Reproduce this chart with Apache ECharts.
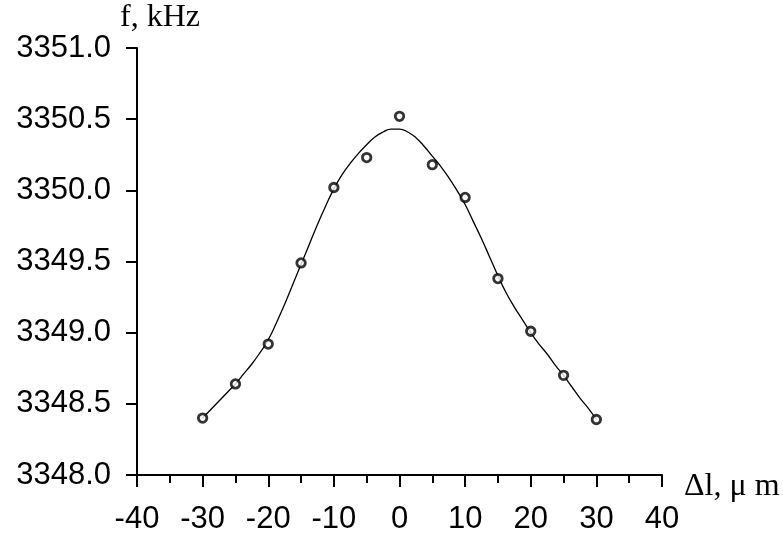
<!DOCTYPE html>
<html>
<head>
<meta charset="utf-8">
<script src="https://cdn.jsdelivr.net/npm/echarts@6/dist/echarts.min.js"></script>
<style>
  html, body { margin: 0; padding: 0; background: #fff; }
  #chart { width: 783px; height: 535px; }
</style>
</head>
<body>
<div id="chart"></div>
<script>
// measured points
var pointX = [-30, -25, -20, -15, -10, -5, 0, 5, 10, 15, 20, 25, 30];
var pointF = [3348.40, 3348.64, 3348.92, 3349.49, 3350.02, 3350.23, 3350.52, 3350.18, 3349.95, 3349.38, 3349.01, 3348.70, 3348.39];

// fitted curve, every 1.25 um
var curveX = [-30, -28.75, -27.5, -26.25, -25, -23.75, -22.5, -21.25, -20, -18.75, -17.5, -16.25, -15, -13.75, -12.5, -11.25, -10, -8.75, -7.5, -6.25, -5, -3.75, -2.5, -1.25, 0,
              1.25, 2.5, 3.75, 5, 6.25, 7.5, 8.75, 10, 11.25, 12.5, 13.75, 15, 16.25, 17.5, 18.75, 20, 21.25, 22.5, 23.75, 25, 26.25, 27.5, 28.75, 30];
var curveF = [3348.40, 3348.46, 3348.52, 3348.58, 3348.64, 3348.71, 3348.78, 3348.86, 3348.95, 3349.07, 3349.20, 3349.34, 3349.48, 3349.62, 3349.76, 3349.89, 3350.01, 3350.11, 3350.19, 3350.26, 3350.32, 3350.375, 3350.41, 3350.43, 3350.43,
              3350.41, 3350.37, 3350.31, 3350.24, 3350.17, 3350.09, 3350.00, 3349.90, 3349.78, 3349.66, 3349.53, 3349.40, 3349.28, 3349.18, 3349.09, 3349.00, 3348.92, 3348.85, 3348.77, 3348.70, 3348.62, 3348.54, 3348.47, 3348.39];

var chart = echarts.init(document.getElementById('chart'));

function pairs(xs, ys) {
    return xs.map(function (x, i) { return [x, ys[i]]; });
}

var sans = '"Liberation Sans", Arial, sans-serif';
var serif = '"Liberation Serif", "Times New Roman", serif';

chart.setOption({
    animation: false,
    backgroundColor: '#fff',
    grid: { left: 137, right: 121, top: 48, bottom: 60 },
    xAxis: {
        type: 'value',
        min: -40, max: 40, interval: 10,
        name: 'Δl, μ m',
        nameLocation: 'end',
        nameGap: 22,
        nameTextStyle: { fontFamily: serif, fontSize: 32, color: '#000', verticalAlign: 'top', lineHeight: 24 },
        axisLine: { show: true, onZero: false, lineStyle: { color: '#000', width: 2 } },
        axisTick: { show: true, length: 12, lineStyle: { color: '#000', width: 2 } },
        minorTick: { show: true, splitNumber: 2, length: 8, lineStyle: { color: '#000', width: 2 } },
        splitLine: { show: false },
        axisLabel: { fontFamily: sans, fontSize: 31, color: '#000', margin: 29 }
    },
    yAxis: {
        type: 'value',
        min: 3348, max: 3351, interval: 0.5,
        name: 'f, kHz',
        nameLocation: 'end',
        nameGap: 14,
        nameTextStyle: { fontFamily: serif, fontSize: 32, color: '#000', padding: [0, 0, 0, 46] },
        axisLine: { show: true, onZero: false, lineStyle: { color: '#000', width: 2 } },
        axisTick: { show: true, length: 11, lineStyle: { color: '#000', width: 2 } },
        splitLine: { show: false },
        axisLabel: {
            fontFamily: sans, fontSize: 31, color: '#000', margin: 26,
            formatter: function (v) { return v.toFixed(1); }
        }
    },
    series: [
        {
            type: 'line',
            data: pairs(curveX, curveF),
            smooth: 0.5,
            showSymbol: false,
            lineStyle: { color: '#000', width: 1.3 },
            z: 2
        },
        {
            type: 'scatter',
            data: pairs(pointX, pointF),
            symbol: 'circle',
            symbolSize: 8.5,
            itemStyle: { color: '#fff', borderColor: '#000', borderWidth: 2.8 },
            z: 3
        }
    ]
});
</script>
</body>
</html>
